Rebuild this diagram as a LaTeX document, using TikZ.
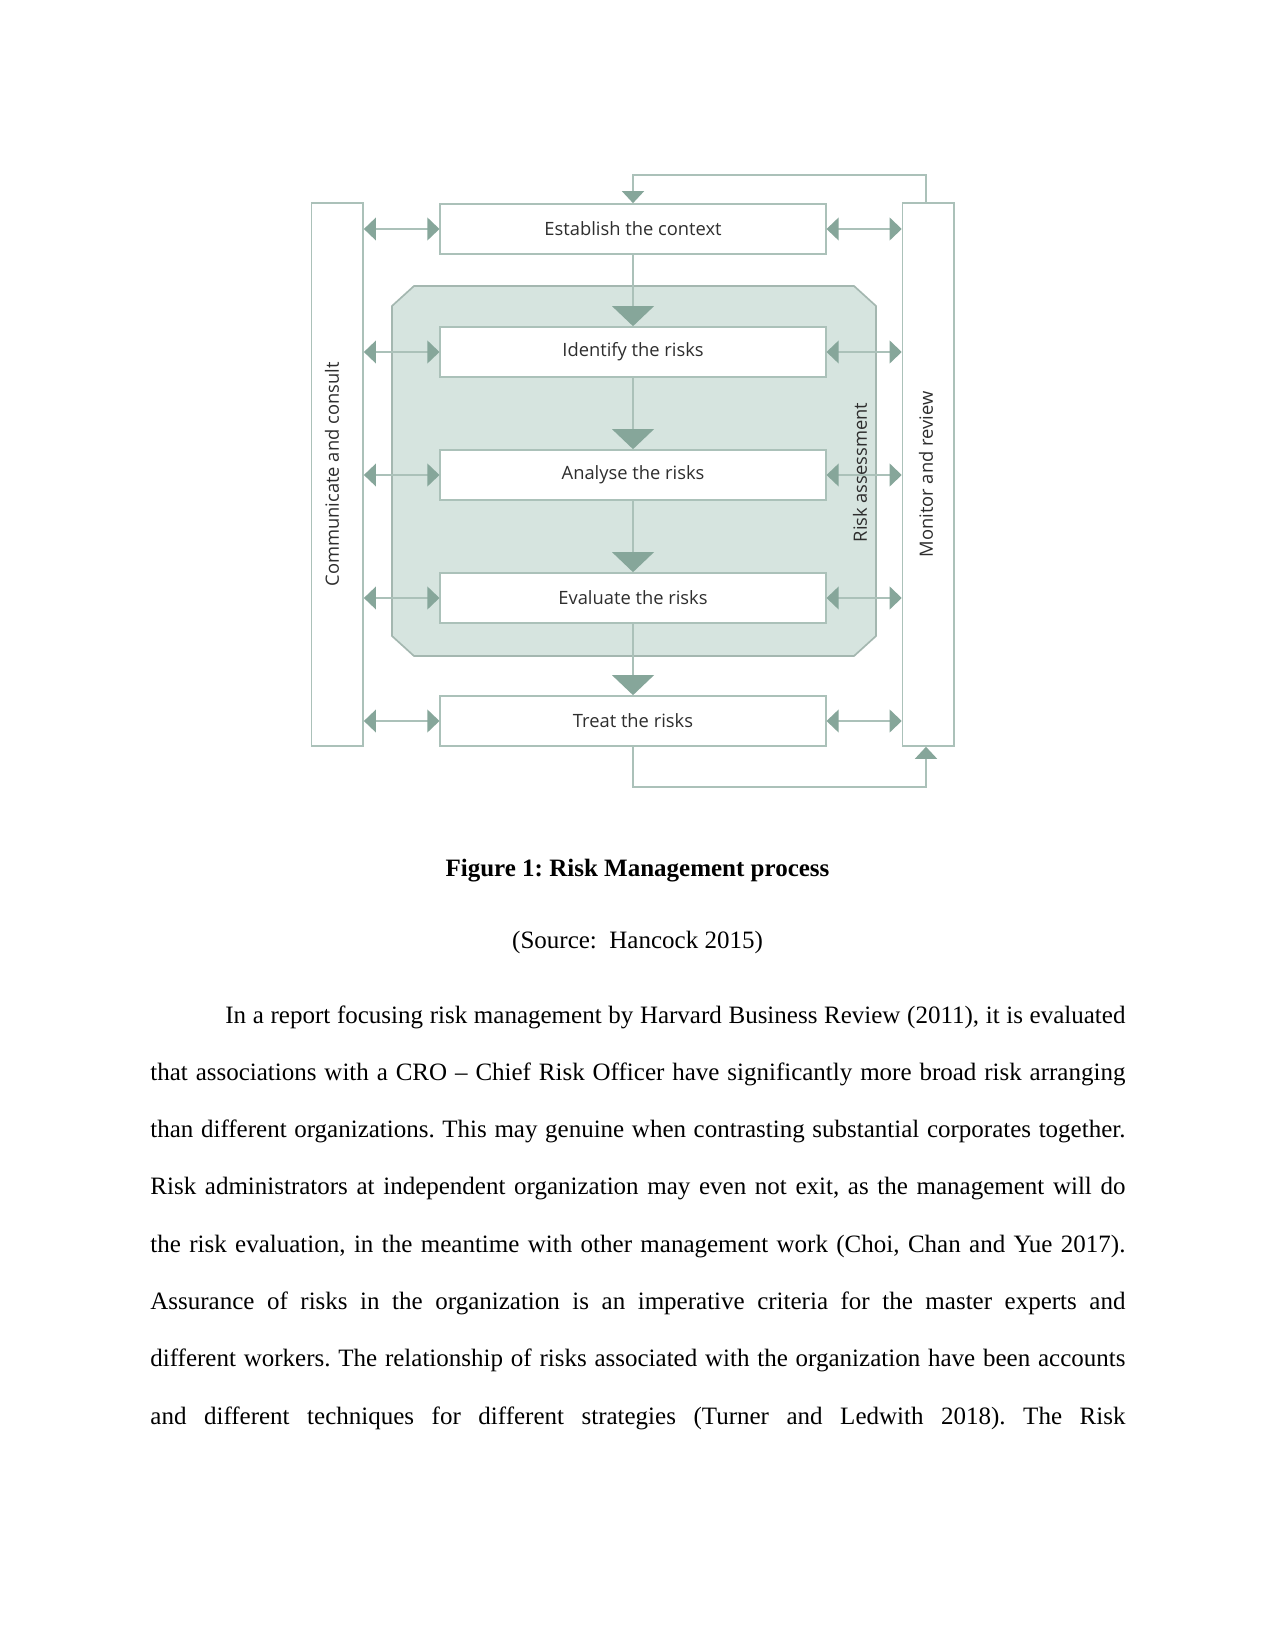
\documentclass[tikz,border=0pt]{standalone}
\usepackage{fontspec}
\setmainfont{Liberation Serif}
\newfontfamily\diagfont{Open Sans}
\usepackage{xcolor}
\usetikzlibrary{arrows.meta,positioning}
\frenchspacing

\definecolor{rmline}{HTML}{ABC1B9}
\definecolor{rmarrow}{HTML}{86A69A}
\definecolor{rmshade}{HTML}{D6E4DF}
\definecolor{rmtext}{HTML}{2E2E2E}

\begin{document}
\begin{tikzpicture}[x=0.48pt,y=-0.48pt,
	stepbox/.style={draw=rmline,line width=0.8pt,fill=white,minimum width=185pt,minimum height=24pt,inner sep=0pt,text=rmtext,font=\diagfont\fontsize{8.8}{10}\selectfont},
	sidebox/.style={draw=rmline,line width=0.8pt,fill=white,minimum width=24.7pt,minimum height=260.6pt,inner sep=0pt},
	sidelabel/.style={rotate=90,text=rmtext,font=\diagfont\fontsize{8.8}{10}\selectfont},
	flow/.style={draw=rmline,line width=0.8pt,-{Triangle[width=20pt,length=9.6pt,color=rmarrow]}},
	link/.style={draw=rmline,line width=0.8pt,{Triangle[width=10.9pt,length=5.8pt,color=rmarrow]}-{Triangle[width=10.9pt,length=5.8pt,color=rmarrow]}},
	loop/.style={draw=rmline,line width=0.8pt,-{Triangle[width=10.6pt,length=5.8pt,color=rmarrow]}},
	bodytext/.style={font=\fontsize{12}{27.5}\selectfont}]
	\fill[white] (0,0) rectangle (1275,1650);
	\useasboundingbox (0,0) rectangle (1275,1650);

	% risk assessment area
	\draw[draw=rmline!85!gray,line width=0.8pt,fill=rmshade] (414,286) -- (854,286) -- (876,306) -- (876,636) -- (854,656) -- (414,656) -- (392,636) -- (392,306) -- cycle;
	\node[sidelabel] (assess) at (860,472.5) {Risk assessment};

	% side columns
	\node[sidebox] (comm) at (337.3,474.5) {};
	\node[sidebox] (mon) at (928.3,474.5) {};
	\node[sidelabel] (commtext) at (332,474.5) {Communicate and consult};
	\node[sidelabel] (montext) at (926,474.5) {Monitor and review};

	% process steps
	\node[stepbox] (est) at (633,229) {Establish the context};
	\node[stepbox] (ident) at (633,352) {Identify the risks};
	\node[stepbox] (anal) at (633,475) {Analyse the risks};
	\node[stepbox] (eval) at (633,598) {Evaluate the risks};
	\node[stepbox] (treat) at (633,721) {Treat the risks};

	\draw[flow] (est) -- (ident);
	\draw[flow] (ident) -- (anal);
	\draw[flow] (anal) -- (eval);
	\draw[flow] (eval) -- (treat);

	\foreach \s in {est,ident,anal,eval,treat}{
		\draw[link] (comm.east |- \s.west) -- (\s.west);
		\draw[link] (\s.east) -- (mon.west |- \s.east);
	}

	% feedback loop
	\coordinate (looptop) at (926,175);
	\coordinate (loopbot) at (926,787);
	\draw[loop] (looptop |- mon.north) -- (looptop) -| (est.north);
	\draw[loop] (treat.south) |- (loopbot) -- (loopbot |- mon.south);

	% caption and text
	\node[bodytext,anchor=base] (caption) at (637.5,876) {\textbf{Figure 1: Risk Management process}};
	\node[bodytext,anchor=base] (source) at (637.5,948) {(Source:\ \ Hancock 2015)};
	\node[bodytext,anchor=base west,text width=468pt,align=justify,inner sep=0pt] (para) at (150,1023) {\parfillskip=0pt
		\hspace*{36pt}In a report focusing risk management by Harvard Business Review (2011), it is evaluated\linebreak
		that associations with a CRO -- Chief Risk Officer have significantly more broad risk arranging\linebreak
		than different organizations. This may genuine when contrasting substantial corporates together.\linebreak
		Risk administrators at independent organization may even not exit, as the management will do\linebreak
		the risk evaluation, in the meantime with other management work (Choi, Chan and Yue 2017).\linebreak
		Assurance of risks in the organization is an imperative criteria for the master experts and\linebreak
		different workers. The relationship of risks associated with the organization have been accounts\linebreak
		and different techniques for different strategies (Turner and Ledwith 2018). The Risk\par};
\end{tikzpicture}
\end{document}
